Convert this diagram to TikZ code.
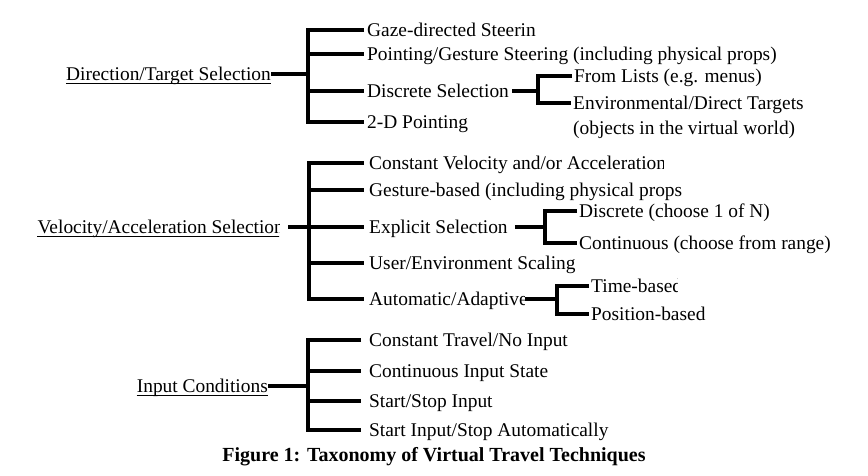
\documentclass[tikz,border=0pt]{standalone}
\usepackage{fontspec}
\setmainfont{Liberation Serif}
\newcommand\myfs{\fontsize{19.4pt}{23pt}\selectfont}
\newcommand\mycapfs{\fontsize{20pt}{24pt}\selectfont}
\tikzset{
  conn/.style={line width=3.2pt, line join=miter},
  item/.style={anchor=west, inner ysep=0pt, inner xsep=#1, text height=13pt, text depth=0pt, font=\myfs},
  item/.default=3pt,
  rootnode/.style={anchor=east, inner sep=0pt, text height=13pt, text depth=0pt, font=\myfs},
  ul/.style={line width=1pt},
}
\begin{document}
\begin{tikzpicture}[x=1pt,y=-1pt]
\useasboundingbox (0,0) rectangle (868,475);

% ---------- Direction/Target Selection ----------
\coordinate (b1) at (308,74);
\node[rootnode] (r1) at (271,74) {Direction/Target Selection};
\draw[ul] ([yshift=-3pt]r1.base west) -- ([yshift=-3pt]r1.base east);
\node[item] (a1) at (364,30) {Gaze-directed Steerin};
\node[item] (a2) at (364,54) {Pointing/Gesture Steering (including physical props)};
\node[item] (a3) at (364,91) {Discrete Selection};
\node[item] (a4) at (364,122) {2-D Pointing};
\draw[conn] (r1.east) -- (b1);
\draw[conn] (a1.west) -- (b1|-a1.west) -- (b1|-a4.west) -- (a4.west);
\draw[conn] (b1|-a2.west) -- (a2.west);
\draw[conn] (b1|-a3.west) -- (a3.west);

\coordinate (b2) at (538,91);
\node[item=2pt] (a31) at (572,76) {From Lists (e.g. menus)};
\begin{scope}
  \clip (560,85) rectangle (803,120);
  \node[item=2pt] (a32) at (571,103) {Environmental/Direct Targets};
\end{scope}
\node[item=2pt] (a33) at ([yshift=-25pt]a32.west) {(objects in the virtual world)};
\draw[conn] (a3.east) -- (b2);
\draw[conn] (a31.west) -- (b2|-a31.west) -- (b2|-a32.west) -- (a32.west);

% ---------- Velocity/Acceleration Selection ----------
\coordinate (b3) at (309,227);
\begin{scope}
  \clip (0,140) rectangle (279,260);
  \node[rootnode] (r2) at (284,227) {Velocity/Acceleration Selection};
  \draw[ul] ([yshift=-3pt]r2.base west) -- ([yshift=-3pt]r2.base east);
\end{scope}
\begin{scope}
  \clip (340,140) rectangle (663,178);
  \node[item=5pt] (c1) at (364,163) {Constant Velocity and/or Acceleration};
\end{scope}
\node[item=5pt] (c2) at (364,190) {Gesture-based (including physical props};
\node[item=5pt] (c3) at (364,227) {Explicit Selection};
\node[item=5pt] (c4) at (364,263) {User/Environment Scaling};
\begin{scope}
  \clip (340,280) rectangle (524,320);
  \node[item=5pt] (c5) at (364,299) {Automatic/Adaptive};
\end{scope}
\draw[conn] ([xshift=4pt]r2.east) -- (b3);
\draw[conn] (c1.west) -- (b3|-c1.west) -- (b3|-c5.west) -- (c5.west);
\draw[conn] (b3|-c2.west) -- (c2.west);
\draw[conn] (b3|-c3.west) -- (c3.west);
\draw[conn] (b3|-c4.west) -- (c4.west);

\coordinate (b4) at (545,227);
\node[item=2pt] (d1) at (577,211) {Discrete (choose 1 of N)};
\node[item=2pt] (d2) at (577,243) {Continuous (choose from range)};
\draw[conn] ([xshift=2pt]c3.east) -- (b4);
\draw[conn] (d1.west) -- (b4|-d1.west) -- (b4|-d2.west) -- (d2.west);

\coordinate (b5) at (557,299);
\begin{scope}
  \clip (580,270) rectangle (677,300);
  \node[item=2pt] (e1) at (589,286) {Time-based};
\end{scope}
\node[item=2pt] (e2) at (589,314) {Position-based};
\draw[conn] ([xshift=-8pt]c5.east) -- (b5);
\draw[conn] (e1.west) -- (b5|-e1.west) -- (b5|-e2.west) -- (e2.west);

% ---------- Input Conditions ----------
\coordinate (b6) at (308,386);
\node[rootnode] (r3) at (268,386) {Input Conditions};
\draw[ul] ([yshift=-3pt]r3.base west) -- ([yshift=-3pt]r3.base east);
\node[item=8pt] (f1) at (361,340) {Constant Travel/No Input};
\node[item=8pt] (f2) at (361,371) {Continuous Input State};
\node[item=8pt] (f3) at (361,401) {Start/Stop Input};
\node[item=8pt] (f4) at (361,430) {Start Input/Stop Automatically};
\draw[conn] (r3.east) -- (b6);
\draw[conn] (f1.west) -- (b6|-f1.west) -- (b6|-f4.west) -- (f4.west);
\draw[conn] (b6|-f2.west) -- (f2.west);
\draw[conn] (b6|-f3.west) -- (f3.west);

% ---------- Caption ----------
\node[font=\mycapfs\bfseries, anchor=base, inner sep=0pt] (cap) at (434,461) {Figure 1: Taxonomy of Virtual Travel Techniques};
\end{tikzpicture}
\end{document}
